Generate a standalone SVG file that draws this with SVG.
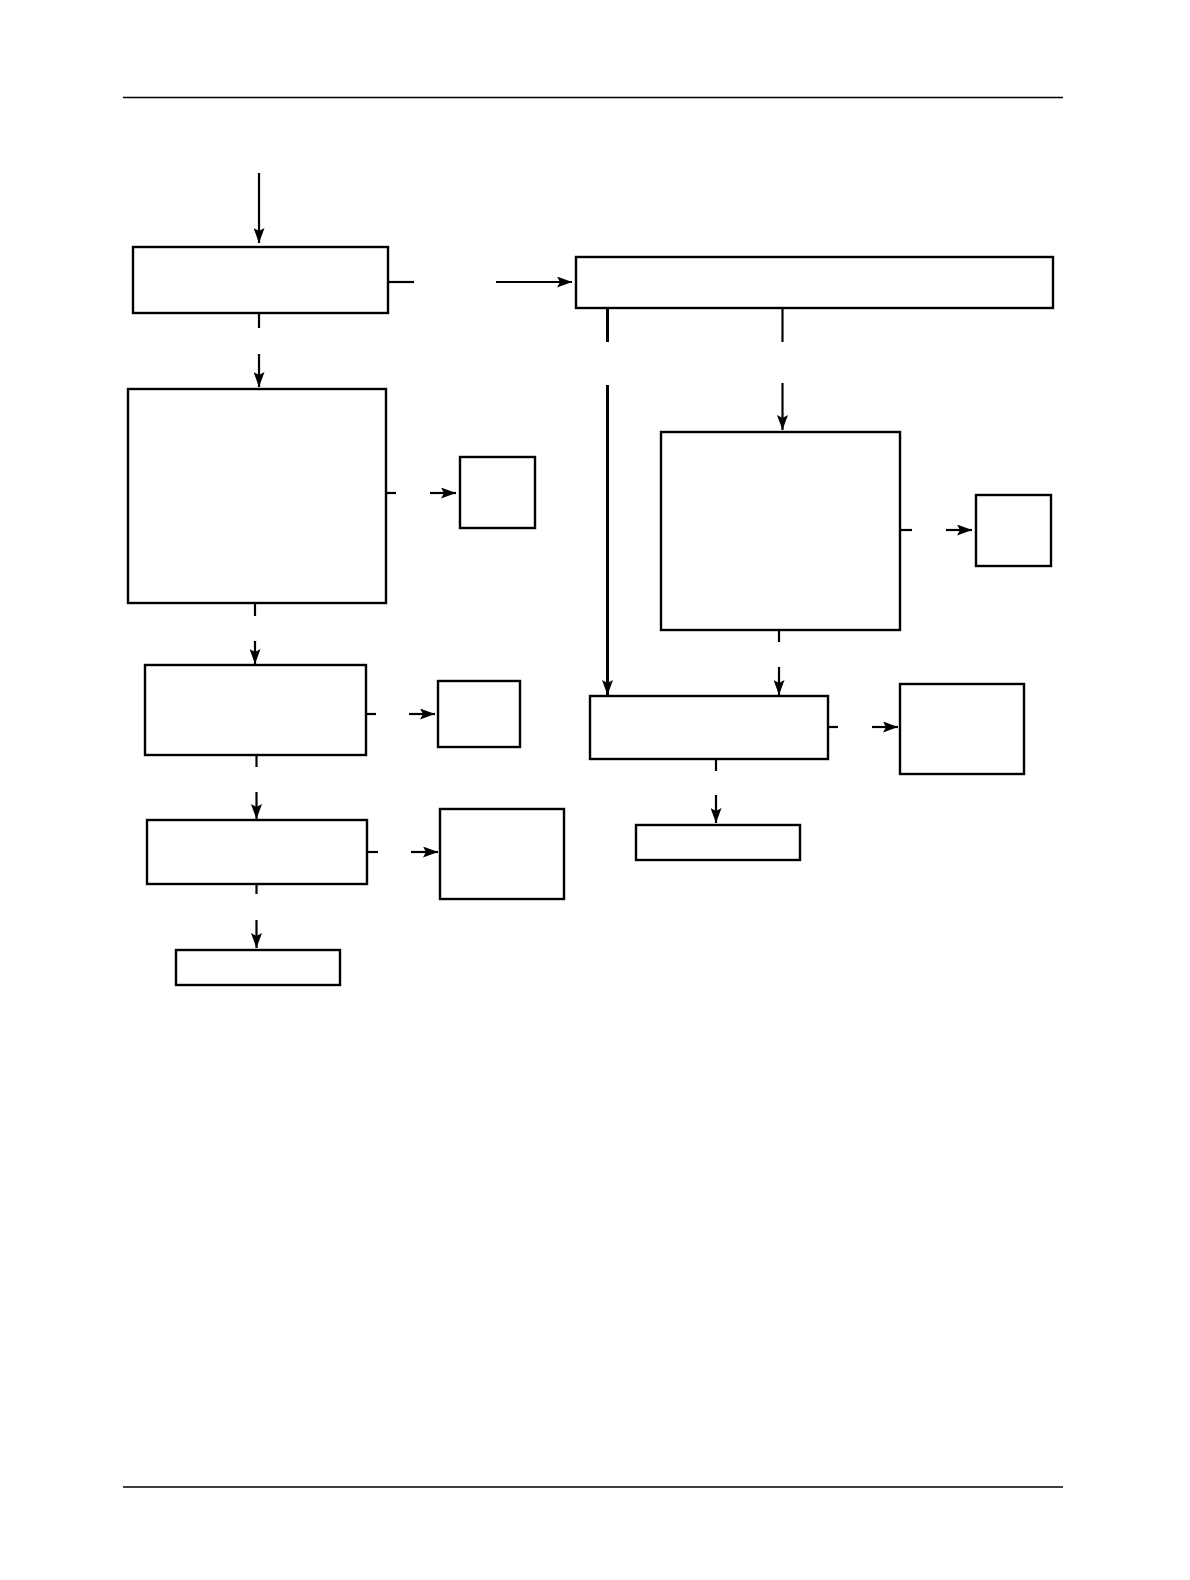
<svg xmlns="http://www.w3.org/2000/svg" width="1190" height="1580" viewBox="0 0 1190 1580">
<style>
.n{fill:#fff;stroke:#000;stroke-width:2.4}
.c line{stroke:#000;stroke-width:2.2}
.c line.thick{stroke-width:3}
.a{marker-end:url(#ah)}
.rule{stroke:#000;stroke-width:1.6}
</style>
<defs>
<marker id="ah" markerUnits="userSpaceOnUse" markerWidth="16" markerHeight="11" refX="15" refY="5.5" orient="auto">
<path d="M0,0 L15,5.5 L0,11 L3,5.5 z" fill="#000"/>
</marker>
</defs>
<rect width="1190" height="1580" fill="#fff"/>
<line class="rule" x1="123" y1="97.5" x2="1063" y2="97.5"/>
<line class="rule" x1="123" y1="1487" x2="1063" y2="1487"/>
<g id="n1"><rect class="n" x="133" y="247" width="255" height="66"/></g>
<g id="n2"><rect class="n" x="576" y="257" width="477" height="51"/></g>
<g id="n3"><rect class="n" x="128" y="389" width="258" height="214"/></g>
<g id="n4"><rect class="n" x="460" y="457" width="75" height="71"/></g>
<g id="n5"><rect class="n" x="661" y="432" width="239" height="198"/></g>
<g id="n6"><rect class="n" x="976" y="495" width="75" height="71"/></g>
<g id="n7"><rect class="n" x="145" y="665" width="221" height="90"/></g>
<g id="n8"><rect class="n" x="438" y="681" width="82" height="66"/></g>
<g id="n9"><rect class="n" x="590" y="696" width="238" height="63"/></g>
<g id="n10"><rect class="n" x="900" y="684" width="124" height="90"/></g>
<g id="n11"><rect class="n" x="147" y="820" width="220" height="64"/></g>
<g id="n12"><rect class="n" x="440" y="809" width="124" height="90"/></g>
<g id="n13"><rect class="n" x="636" y="825" width="164" height="35"/></g>
<g id="n14"><rect class="n" x="176" y="950" width="164" height="35"/></g>
<g id="connectors" class="c">
<line class="a" x1="259" y1="173" x2="259" y2="243"/>
<line x1="388" y1="282" x2="414" y2="282"/>
<line class="a" x1="496" y1="282" x2="572" y2="282"/>
<line x1="259" y1="313" x2="259" y2="328"/>
<line class="a" x1="259" y1="354" x2="259" y2="387"/>
<line class="thick" x1="607.5" y1="308" x2="607.5" y2="342"/>
<line class="thick a" x1="607.5" y1="385" x2="607.5" y2="695"/>
<line x1="782.5" y1="308" x2="782.5" y2="342"/>
<line class="a" x1="782.5" y1="383" x2="782.5" y2="430"/>
<line x1="386" y1="493" x2="396" y2="493"/>
<line class="a" x1="430" y1="493" x2="456" y2="493"/>
<line x1="900" y1="530" x2="912" y2="530"/>
<line class="a" x1="946" y1="530" x2="972" y2="530"/>
<line x1="255" y1="603" x2="255" y2="616"/>
<line class="a" x1="255" y1="641" x2="255" y2="664"/>
<line x1="779" y1="630" x2="779" y2="642"/>
<line class="a" x1="779" y1="667" x2="779" y2="695"/>
<line x1="366" y1="714" x2="376" y2="714"/>
<line class="a" x1="409" y1="714" x2="435" y2="714"/>
<line x1="828" y1="727" x2="838" y2="727"/>
<line class="a" x1="872" y1="727" x2="898" y2="727"/>
<line x1="256.5" y1="755" x2="256.5" y2="767"/>
<line class="a" x1="256.5" y1="792" x2="256.5" y2="819"/>
<line x1="716" y1="759" x2="716" y2="771"/>
<line class="a" x1="716" y1="795" x2="716" y2="823"/>
<line x1="367" y1="852" x2="378" y2="852"/>
<line class="a" x1="411" y1="852" x2="438" y2="852"/>
<line x1="256.5" y1="884" x2="256.5" y2="894"/>
<line class="a" x1="256.5" y1="920" x2="256.5" y2="948"/>
</g>
</svg>
